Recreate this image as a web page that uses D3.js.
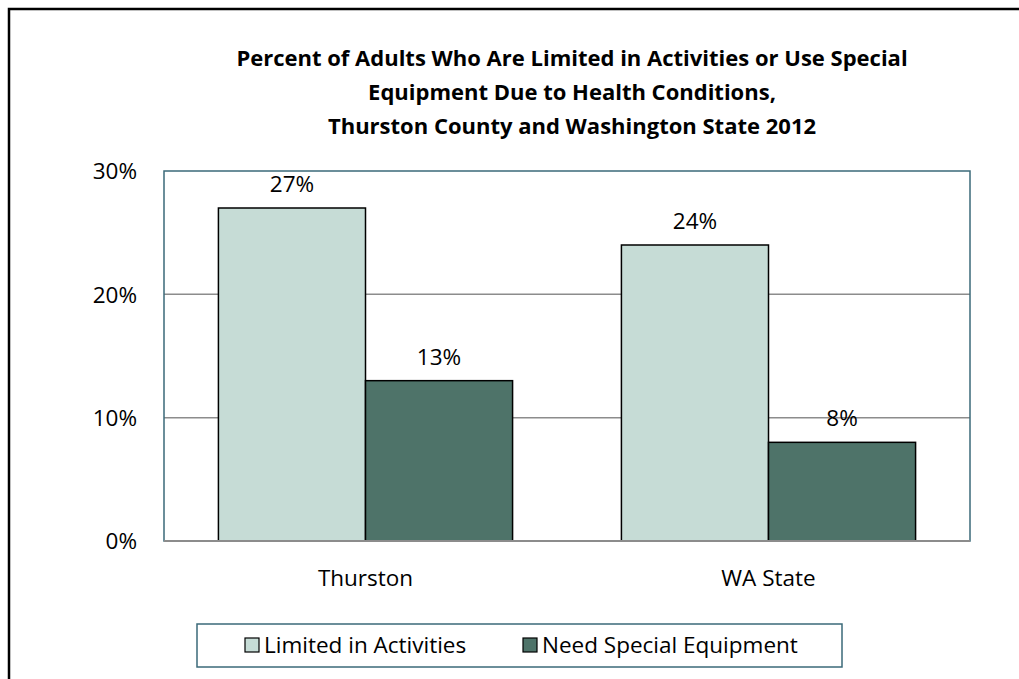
<!DOCTYPE html>
<html>
<head>
<meta charset="utf-8">
<script src="https://cdn.jsdelivr.net/npm/d3@7"></script>
<style>
  html, body { margin: 0; padding: 0; background: #fff; }
  svg { display: block; font-family: "Open Sans", sans-serif; }
</style>
</head>
<body>
<svg id="chart" width="1019" height="679"></svg>
<script>
const titleLines = [
  "Percent of Adults Who Are Limited in Activities or Use Special",
  "Equipment Due to Health Conditions,",
  "Thurston County and Washington State 2012"
];
const categories = ["Thurston", "WA State"];
const seriesNames = ["Limited in Activities", "Need Special Equipment"];
const limitedValues = [27, 24];
const equipmentValues = [13, 8];
const yTicks = [0, 10, 20, 30];
const seriesColors = ["#c6dcd6", "#4e7369"];

const svg = d3.select("#chart");
const W = 1019, H = 679;
const FONT = "'Open Sans', sans-serif";
const FS = 22.5;

// outer chart border (extends past right/bottom edges)
svg.append("rect")
  .attr("x", 9).attr("y", 9).attr("width", W + 20).attr("height", H + 20)
  .attr("fill", "#fff").attr("stroke", "#000").attr("stroke-width", 2.5);

const plot = { left: 164, right: 970, top: 171, bottom: 541 };

const x0 = d3.scaleBand().domain(categories).range([plot.left, plot.right]).paddingInner(0).paddingOuter(0);
const x1 = d3.scaleBand().domain(seriesNames).range([0, x0.bandwidth()]).paddingInner(0).paddingOuter(0.37);
const y = d3.scaleLinear().domain([0, 30]).range([plot.bottom, plot.top]);

// gridlines
svg.append("g").selectAll("line").data(yTicks.filter(t => t > 0 && t < 30)).join("line")
  .attr("x1", plot.left).attr("x2", plot.right)
  .attr("y1", d => y(d)).attr("y2", d => y(d))
  .attr("stroke", "#8c8c8c").attr("stroke-width", 1.5);

// y tick labels
const yAxis = d3.axisLeft(y).tickValues(yTicks).tickFormat(d => d + "%").tickSize(0).tickPadding(0);
const yg = svg.append("g").attr("transform", `translate(${plot.left - 27},0)`).call(yAxis);
yg.select(".domain").remove();
yg.selectAll("text").attr("font-size", FS).attr("fill", "#000").attr("font-family", FONT).attr("dy", "0.35em");

// bars
const rows = categories.map((c, i) => ({ cat: c, vals: [limitedValues[i], equipmentValues[i]] }));
const groups = svg.append("g").selectAll("g").data(rows).join("g")
  .attr("transform", d => `translate(${x0(d.cat)},0)`);
groups.selectAll("rect").data(d => d.vals.map((v, j) => ({ v, s: seriesNames[j], j }))).join("rect")
  .attr("x", d => x1(d.s))
  .attr("width", x1.bandwidth())
  .attr("y", d => y(d.v))
  .attr("height", d => y(0) - y(d.v))
  .attr("fill", d => seriesColors[d.j])
  .attr("stroke", "#000").attr("stroke-width", 1.5);
groups.selectAll("text").data(d => d.vals.map((v, j) => ({ v, s: seriesNames[j] }))).join("text")
  .attr("x", d => x1(d.s) + x1.bandwidth() / 2)
  .attr("y", d => y(d.v) - 16)
  .attr("text-anchor", "middle")
  .attr("font-size", FS).attr("fill", "#000")
  .text(d => d.v + "%");

// plot border
svg.append("rect").attr("x", plot.left).attr("y", plot.top)
  .attr("width", plot.right - plot.left).attr("height", plot.bottom - plot.top)
  .attr("fill", "none").attr("stroke", "#3b6a79").attr("stroke-width", 1.5);
// x axis baseline
svg.append("line").attr("x1", plot.left).attr("x2", plot.right)
  .attr("y1", y(0)).attr("y2", y(0)).attr("stroke", "#8c8c8c").attr("stroke-width", 2);

// category labels
const xAxis = d3.axisBottom(x0).tickSize(0).tickPadding(0);
const xg = svg.append("g").attr("transform", `translate(0,${plot.bottom + 37})`).call(xAxis);
xg.select(".domain").remove();
xg.selectAll("text").attr("font-size", FS).attr("fill", "#000").attr("font-family", FONT).attr("dy", "0.35em");

// title
svg.append("g").selectAll("text").data(titleLines).join("text")
  .attr("x", 572).attr("y", (d, i) => 66 + i * 34)
  .attr("text-anchor", "middle")
  .attr("font-size", 22).attr("font-weight", "bold").attr("fill", "#000")
  .text(d => d);

// legend
const lg = svg.append("g");
lg.append("rect").attr("x", 197).attr("y", 624).attr("width", 645).attr("height", 43)
  .attr("fill", "#fff").attr("stroke", "#3b6a79").attr("stroke-width", 1.5);
const legendX = [245, 523];
seriesNames.forEach((s, i) => {
  lg.append("rect").attr("x", legendX[i]).attr("y", 638).attr("width", 14).attr("height", 14)
    .attr("fill", seriesColors[i]).attr("stroke", "#000").attr("stroke-width", 1.2);
  lg.append("text").attr("x", legendX[i] + 19).attr("y", 645).attr("dy", "0.35em")
    .attr("font-size", FS).attr("fill", "#000").text(s);
});
</script>
</body>
</html>
